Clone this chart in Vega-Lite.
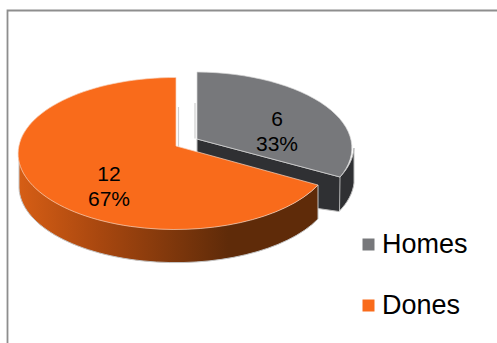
{
  "$schema": "https://vega.github.io/schema/vega-lite/v6.json",
  "width": 497,
  "height": 343,
  "padding": 0,
  "autosize": "none",
  "background": "white",
  "view": {"stroke": null},
  "config": {"font": "Liberation Sans"},
  "data": {"values": [
    {"category": "Homes", "value": 6, "share": "33%"},
    {"category": "Dones", "value": 12, "share": "67%"}
  ]},
  "resolve": {"scale": {"x": "independent", "y": "independent"}},
  "layer": [
    {
      "data": {"values": [{"element": "frame"}]},
      "mark": {"type": "point", "size": 4, "filled": false, "opacity": 1, "stroke": "#8e8e8e", "strokeWidth": 1.8},
      "encoding": {"shape": {"value": "M-241 171.5 L-241 -161 L248.5 -161"}}
    },
    {
      "transform": [{"filter": "datum.category === 'Homes'"}],
      "mark": {"type": "point", "size": 4, "filled": true, "opacity": 1, "fill": "#2f3033", "stroke": "#bdbdbd", "strokeWidth": 1},
      "encoding": {"shape": {"value": "M-51.5 -32.5 L91.5 5.5 A157 76 0 0 0 105.5 -23.5 L105.5 11.5 A157 76 0 0 1 90.5 40 L69.5 37 L-51.5 2.5 Z"}}
    },
    {
      "transform": [{"filter": "datum.category === 'Homes'"}],
      "mark": {"type": "point", "size": 4, "filled": false, "opacity": 1, "stroke": "#d8d8d8", "strokeWidth": 0.8},
      "encoding": {"shape": {"value": "M91.5 5.5 L91 40"}}
    },
    {
      "transform": [{"filter": "datum.category === 'Dones'"}],
      "mark": {"type": "point", "size": 4, "filled": true, "opacity": 1, "stroke": "#c4c4c4", "strokeWidth": 1,
        "fill": {"gradient": "linear", "x1": 0, "y1": 0, "x2": 1, "y2": 0, "stops": [
          {"offset": 0, "color": "#d65e15"},
          {"offset": 0.27, "color": "#a8470f"},
          {"offset": 0.7, "color": "#5f2b09"},
          {"offset": 1, "color": "#5f2b09"}
        ]}},
      "encoding": {"shape": {"value": "M-229.5 -18.5 A157 76 0 0 0 69.5 13.5 L69.5 47.5 A157 76 0 0 1 -229.5 16.5 Z"}}
    },
    {
      "transform": [{"filter": "datum.category === 'Dones'"}],
      "mark": {"type": "point", "size": 4, "filled": false, "opacity": 1, "stroke": "#cfcfcf", "strokeWidth": 1.2},
      "encoding": {"shape": {"value": "M-70 -64.5 L-70 -25 M-53.5 -68.5 L-53.5 -33"}}
    },
    {
      "transform": [{"filter": "datum.category === 'Homes'"}],
      "mark": {"type": "point", "size": 4, "filled": true, "opacity": 1, "fill": "#77787b", "stroke": "#d9d9d9", "strokeWidth": 0.7},
      "encoding": {"shape": {"value": "M-51.5 -32.5 L-51.5 -99.5 A157 76 0 0 1 91.5 5.5 Z"}}
    },
    {
      "transform": [{"filter": "datum.category === 'Dones'"}],
      "mark": {"type": "point", "size": 4, "filled": true, "opacity": 1, "fill": "#f96b1b", "stroke": "#f7d6c2", "strokeWidth": 0.7},
      "encoding": {"shape": {"value": "M-72.5 -25.5 L-72.5 -94 A157 76 0 1 0 69.5 13.5 Z"}}
    },
    {
      "mark": {"type": "square", "size": 1, "opacity": 0},
      "encoding": {
        "color": {
          "field": "category", "type": "nominal",
          "scale": {"domain": ["Homes", "Dones"], "range": ["#77787b", "#f96b1b"]},
          "legend": {
            "title": null,
            "orient": "none",
            "legendX": 355,
            "legendY": 231,
            "symbolType": "square",
            "symbolSize": 144,
            "symbolStrokeWidth": 0,
            "symbolOpacity": 1,
            "labelFontSize": 27,
            "labelFont": "Liberation Sans",
            "labelColor": "#000000",
            "labelOffset": 0,
            "rowPadding": 33
          }
        }
      }
    },
    {
      "mark": {"type": "text", "fontSize": 21, "font": "Liberation Sans", "color": "#000000", "baseline": "alphabetic", "align": "center"},
      "encoding": {
        "text": {"field": "value", "type": "quantitative"},
        "x": {"field": "category", "type": "nominal", "axis": null, "scale": {"domain": ["Homes", "Dones"], "range": [277, 109], "padding": 0}},
        "y": {"field": "category", "type": "nominal", "axis": null, "scale": {"domain": ["Homes", "Dones"], "range": [126, 181], "padding": 0}}
      }
    },
    {
      "mark": {"type": "text", "fontSize": 21, "font": "Liberation Sans", "color": "#000000", "baseline": "alphabetic", "align": "center"},
      "encoding": {
        "text": {"field": "share", "type": "nominal"},
        "x": {"field": "category", "type": "nominal", "axis": null, "scale": {"domain": ["Homes", "Dones"], "range": [277, 109], "padding": 0}},
        "y": {"field": "category", "type": "nominal", "axis": null, "scale": {"domain": ["Homes", "Dones"], "range": [151, 206], "padding": 0}}
      }
    }
  ]
}
